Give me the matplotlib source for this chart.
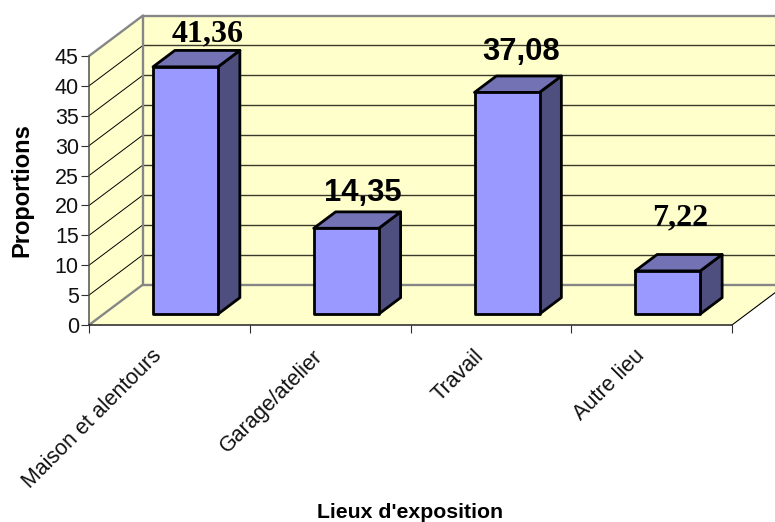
import matplotlib
matplotlib.use("Agg")
import matplotlib.pyplot as plt
from matplotlib.patches import Polygon
from matplotlib.transforms import ScaledTranslation

categories = ["Maison et alentours", "Garage/atelier", "Travail", "Autre lieu"]
values = [41.36, 14.35, 37.08, 7.22]
value_labels = ["41,36", "14,35", "37,08", "7,22"]
y_ticks = [0, 5, 10, 15, 20, 25, 30, 35, 40, 45]

W, H = 775, 522
L, R, T, B = 89, 732, 56, 325
SANS = "Liberation Sans"
SERIF = "Liberation Serif"

fig = plt.figure(figsize=(W / 100, H / 100), dpi=100, facecolor="white")
ax = fig.add_axes([L / W, 1 - B / H, (R - L) / W, (B - T) / H])
ax.set_xlim(0, 4)
ax.set_ylim(0, 45)
ax.patch.set_visible(False)

ux = (R - L) / 4      # pixels per category
uy = (B - T) / 45     # pixels per value unit
DX, DY = 54 / ux, 40.5 / uy  # full depth of the box, in data units


def P(x, y, d=0.0):
    """Project category position x, value y and depth d (0..1) on the axes."""
    return (x + d * DX, y + d * DY)


def poly(points, **kw):
    kw.setdefault("clip_on", False)
    ax.add_patch(Polygon(points, closed=True, **kw))


def line(a, b, **kw):
    ax.plot([a[0], b[0]], [a[1], b[1]], clip_on=False, solid_capstyle="round", **kw)


WALL = "#FFFFCC"
GREY = "#868686"
EDGE_X = (W - L) / ux - DX  # back-wall x reaching the figure's right edge

# walls and floor
poly([P(0, 0), P(0, 45), P(0, 45, 1), P(0, 0, 1)], fc=WALL, ec="none", zorder=1)
poly([P(0, 0, 1), P(0, 45, 1), P(EDGE_X, 45, 1), P(EDGE_X, 0, 1)], fc=WALL, ec="none", zorder=1)
poly([P(0, 0), P(4, 0), P(4, 0, 0.8), P(EDGE_X, 0, 1), P(0, 0, 1)], fc=WALL, ec="none", zorder=1)

# gridlines
for v in y_ticks[1:-1]:
    line(P(0, v), P(0, v, 1), color="black", lw=0.7, zorder=2)
    line(P(0, v, 1), P(EDGE_X, v, 1), color="#3a3a2a", lw=1.0, zorder=2)

# grey frame
for a, b in [
    (P(0, 0), P(0, 0, 1)),
    (P(0, 45), P(0, 45, 1)),
    (P(0, 0, 1), P(0, 45, 1)),
    (P(0, 45, 1), P(EDGE_X, 45, 1)),
    (P(0, 0, 1), P(EDGE_X, 0, 1)),
]:
    line(a, b, color=GREY, lw=1.7, zorder=3)
line(P(0, 0), P(0, 45), color="#505050", lw=1.1, zorder=3)
line(P(4, 0), P(4, 0, 0.8), color="black", lw=0.8, zorder=3)

# bars
BW = 65 / ux
X0 = 64 / ux
D0, D1 = 0.27, 0.675
for i, v in enumerate(values):
    x0 = i + X0 - D0 * DX
    x1 = x0 + BW
    style = dict(ec="black", lw=2.0, joinstyle="round", zorder=5)
    poly([P(x1, 0, D0), P(x1, v, D0), P(x1, v, D1), P(x1, 0, D1)], fc="#4F4F7F", **style)
    poly([P(x0, v, D0), P(x1, v, D0), P(x1, v, D1), P(x0, v, D1)], fc="#7272B5", **style)
    poly([P(x0, 0, D0), P(x1, 0, D0), P(x1, v, D0), P(x0, v, D0)], fc="#9999FF", **style)

# axes furniture
for s in ("top", "right", "left"):
    ax.spines[s].set_visible(False)
ax.spines["bottom"].set_color("#202020")
ax.spines["bottom"].set_linewidth(1.1)
ax.spines["bottom"].set_zorder(4)

ax.set_yticks(y_ticks)
ax.tick_params(axis="y", length=5.8, width=0.8, color="#303030", pad=1.5, labelsize=15.5, labelcolor="#111111")
for t in ax.get_yticklabels():
    t.set_fontfamily(SANS)

ax.set_xticks(range(5))
ax.set_xticklabels([])
ax.tick_params(axis="x", which="major", length=6, width=0.8, color="#303030")
ax.set_xticks([i + 0.5 for i in range(4)], minor=True)
ax.set_xticklabels(categories, minor=True, rotation=45, ha="right", va="top",
                   rotation_mode="anchor", fontfamily=SANS, fontsize=15.5, color="#111111")
ax.tick_params(axis="x", which="minor", length=0, pad=9)
shift = ScaledTranslation(-18 / 100, -8 / 100, fig.dpi_scale_trans)
for t in ax.get_xticklabels(minor=True):
    t.set_transform(t.get_transform() + shift)

# data labels, placed in pixels
label_px = [(208, 34, SERIF, 23), (363, 193, SANS, 22.3), (521, 52, SANS, 22.3), (680, 218, SERIF, 23)]
for txt, (px, py, fam, fs) in zip(value_labels, label_px):
    fig.text(px / W, 1 - py / H, txt, ha="center", va="center", fontfamily=fam,
             fontweight="bold", fontsize=fs, color="black", zorder=10)

fig.text(22 / W, 1 - 190 / H, "Proportions", rotation=90, ha="center", va="center",
         fontfamily=SANS, fontweight="bold", fontsize=17)
fig.text(410 / W, 1 - 512 / H, "Lieux d'exposition", ha="center", va="center",
         fontfamily=SANS, fontweight="bold", fontsize=15.3)

fig.savefig("out.png", dpi=100, facecolor="white")
